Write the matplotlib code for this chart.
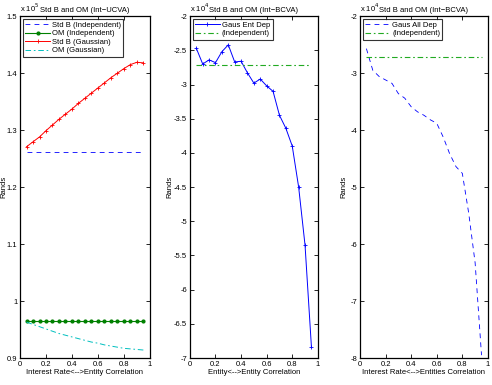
import numpy as np
import matplotlib.pyplot as plt
from matplotlib.ticker import FuncFormatter

plt.rcParams['font.family'] = ['Liberation Sans', 'DejaVu Sans']
plt.rcParams['font.size'] = 5.5
plt.rcParams['lines.scale_dashes'] = False

rho = np.arange(1, 20) * 0.05

# panel 1, values in units of 1e5 Rands
std_b_indep = np.full(19, 1.262)
om_indep = np.full(19, 0.9655)
std_b_gauss = np.array([1.2707, 1.2795, 1.288, 1.299, 1.309, 1.319, 1.328, 1.337, 1.347, 1.356,
                        1.365, 1.374, 1.383, 1.392, 1.400, 1.408, 1.415, 1.419, 1.418])
om_gauss = np.array([0.963, 0.959, 0.955, 0.951, 0.947, 0.943, 0.940, 0.937, 0.934, 0.931,
                     0.928, 0.926, 0.923, 0.921, 0.919, 0.917, 0.916, 0.915, 0.914])

# panel 2, units of 1e4 Rands
ent_dep = np.array([-2.47, -2.70, -2.64, -2.68, -2.52, -2.42, -2.67, -2.66, -2.83, -2.98,
                    -2.92, -3.02, -3.10, -3.45, -3.64, -3.90, -4.50, -5.35, -6.84])
bcva_indep = np.full(19, -2.71)

# panel 3, units of 1e4 Rands
all_dep = np.array([-2.57, -2.95, -3.06, -3.12, -3.18, -3.36, -3.44, -3.59, -3.68, -3.74,
                    -3.82, -3.88, -4.12, -4.41, -4.64, -4.76, -5.46, -6.33, -7.95])

fmt = FuncFormatter(lambda v, p: '%g' % round(v, 6))
DASH = (3.5, 3)
DASHDOT = (4, 2, 1.2, 2)
GREEN = '#22aa22'


def style(ax, ylim, yticks, xlabel, title, exp, ylab_x):
    ax.set_xlim(0, 1)
    ax.set_ylim(*ylim)
    ax.set_xticks([0, 0.2, 0.4, 0.6, 0.8, 1])
    ax.set_yticks(yticks)
    ax.xaxis.set_major_formatter(fmt)
    ax.yaxis.set_major_formatter(fmt)
    ax.tick_params(direction='in', top=True, right=True, length=3, width=0.6,
                   labelsize=5.5, pad=2)
    for s in ax.spines.values():
        s.set_linewidth(0.9)
    ax.set_xlabel(xlabel, fontsize=5.5, labelpad=1)
    ax.set_ylabel('Rands', fontsize=5.5)
    ax.yaxis.set_label_coords(ylab_x, 0.5)
    ax.set_title(title, fontsize=5.5, pad=3)
    ax.text(0.0, 1.005, 'x 10$^{%d}$' % exp, transform=ax.transAxes,
            fontsize=5.5, ha='left', va='bottom')
    leg = ax.legend(loc='upper left', fontsize=5.5, frameon=True, fancybox=False,
                    edgecolor='black', borderpad=0.3, labelspacing=0.15,
                    handlelength=3.2, handletextpad=0.3, borderaxespad=0.4)
    leg.get_frame().set_linewidth(0.8)


fig = plt.figure(figsize=(4.92, 3.85), dpi=100)
ax1 = fig.add_axes([0.0407, 0.0701, 0.264, 0.888])
ax2 = fig.add_axes([0.386, 0.0701, 0.260, 0.888])
ax3 = fig.add_axes([0.7317, 0.0701, 0.260, 0.888])

ax1.plot(rho, std_b_indep, color='#0000ff', lw=0.6, dashes=DASH, label='Std B (Independent)')
ax1.plot(rho, om_indep, '-', color='#008000', lw=0.8, marker='.', ms=4, label='OM (Independent)')
ax1.plot(rho, std_b_gauss, '-', color='#ff0000', lw=0.7, marker='+', ms=3.5, mew=0.6,
         label='Std B (Gaussian)')
ax1.plot(rho, om_gauss, color='#00bfbf', lw=0.7, dashes=DASHDOT, label='OM (Gaussian)')
style(ax1, (0.9, 1.5), [0.9, 1, 1.1, 1.2, 1.3, 1.4, 1.5],
      'Interest Rate<-->Entity Correlation', 'Std B and OM (Int\u2212UCVA)', 5, -0.095)

ax2.plot(rho, ent_dep, '-', color='#0000ff', lw=0.7, marker='+', ms=3.5, mew=0.6,
         label='Gaus Ent Dep')
ax2.plot(rho, bcva_indep, color=GREEN, lw=0.8, dashes=DASHDOT, label='(Independent)')
style(ax2, (-7, -2), np.arange(-7, -1.9, 0.5),
      'Entity<-->Entity Correlation', 'Std B and OM (Int\u2212BCVA)', 4, -0.13)

ax3.plot(rho, all_dep, color='#0000ff', lw=0.6, dashes=DASH, label='Gaus All Dep')
ax3.plot(rho, bcva_indep, color=GREEN, lw=0.8, dashes=DASHDOT, label='(Independent)')
style(ax3, (-8, -2), np.arange(-8, -1.9, 1),
      'Interest Rate<-->Entities Correlation', 'Std B and OM (Int\u2212BCVA)', 4, -0.1)

fig.savefig('out.png', dpi=100)
